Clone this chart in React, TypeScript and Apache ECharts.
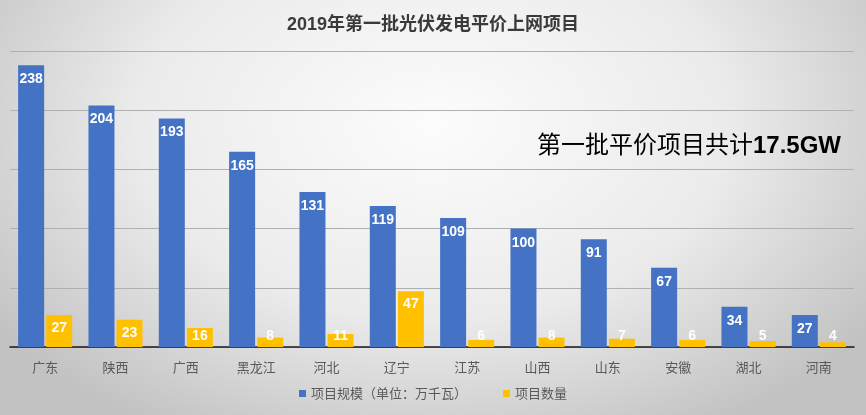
import React, { useEffect, useRef } from "react";
import * as echarts from "echarts";

const categories = ["广东", "陕西", "广西", "黑龙江", "河北", "辽宁", "江苏", "山西", "山东", "安徽", "湖北", "河南"];
const scaleValues = [238, 204, 193, 165, 131, 119, 109, 100, 91, 67, 34, 27];
const countValues = [27, 23, 16, 8, 11, 47, 6, 8, 7, 6, 5, 4];
const seriesNames = ["项目规模（单位：万千瓦）", "项目数量"];
const titleText = "2019年第一批光伏发电平价上网项目";
const noteMain = "第一批平价项目共计";
const noteBold = "17.5GW";

const FONT = "'Liberation Sans', 'Noto Sans CJK SC', sans-serif";

export default function App() {
  const ref = useRef<HTMLDivElement>(null);
  useEffect(() => {
    if (!ref.current) return;
    const chart = echarts.init(ref.current, null, { renderer: "svg" });
    const labelBase = {
      show: true,
      color: "#ffffff",
      fontSize: 14,
      fontWeight: "bold" as const,
      fontFamily: FONT,
    };
    chart.setOption({
      animation: false,
      backgroundColor: "transparent",
      title: {
        text: titleText,
        left: "center",
        top: 10,
        textStyle: { fontSize: 18, fontWeight: "bold", color: "#3a3a3a", fontFamily: FONT },
      },
      legend: {
        bottom: 10,
        left: "center",
        icon: "rect",
        itemWidth: 7,
        itemHeight: 7,
        itemGap: 36,
        textStyle: { fontSize: 13, color: "#595959", fontFamily: FONT },
        data: seriesNames,
      },
      grid: { left: 10, right: 12, top: 51, bottom: 68, containLabel: false },
      xAxis: {
        type: "category",
        data: categories,
        axisTick: { show: false },
        axisLine: { lineStyle: { color: "#1a1a1a", width: 1.5 } },
        axisLabel: { color: "#595959", fontSize: 13, margin: 14, fontFamily: FONT },
      },
      yAxis: {
        type: "value",
        min: 0,
        max: 250,
        interval: 50,
        axisLabel: { show: false },
        axisLine: { show: false },
        axisTick: { show: false },
        splitLine: { lineStyle: { color: "#b0b0b0", width: 1 } },
      },
      series: [
        {
          name: seriesNames[0],
          type: "bar",
          data: scaleValues,
          barWidth: 26,
          barGap: "8%",
          itemStyle: { color: "#4472C4" },
          label: { ...labelBase, position: "insideTop", distance: 6 },
        },
        {
          name: seriesNames[1],
          type: "bar",
          data: countValues.map((v) => ({
            value: v,
            label:
              v < 20
                ? { position: "insideBottom", distance: 5 }
                : { position: "insideTop", distance: 5 },
          })),
          barWidth: 26,
          itemStyle: { color: "#FFC000" },
          label: { ...labelBase, color: "#fdfdfd" },
        },
      ],
      graphic: [
        {
          type: "text",
          left: 537,
          top: 132,
          style: {
            text: `{a|${noteMain}}{b|${noteBold}}`,
            rich: {
              a: { fontSize: 24, color: "#1a1a1a", fontFamily: FONT },
              b: { fontSize: 24, color: "#1a1a1a", fontWeight: "bold", fontFamily: FONT },
            },
          },
        },
      ],
    });
    return () => chart.dispose();
  }, []);
  return (
    <div
      ref={ref}
      style={{
        position: "fixed",
        left: 0,
        top: 0,
        width: 866,
        height: 415,
        background:
          "radial-gradient(ellipse 62% 85% at 50% 30%, #fcfcfc 0%, #ebebeb 55%, #c2c2c2 100%)",
      }}
    />
  );
}
